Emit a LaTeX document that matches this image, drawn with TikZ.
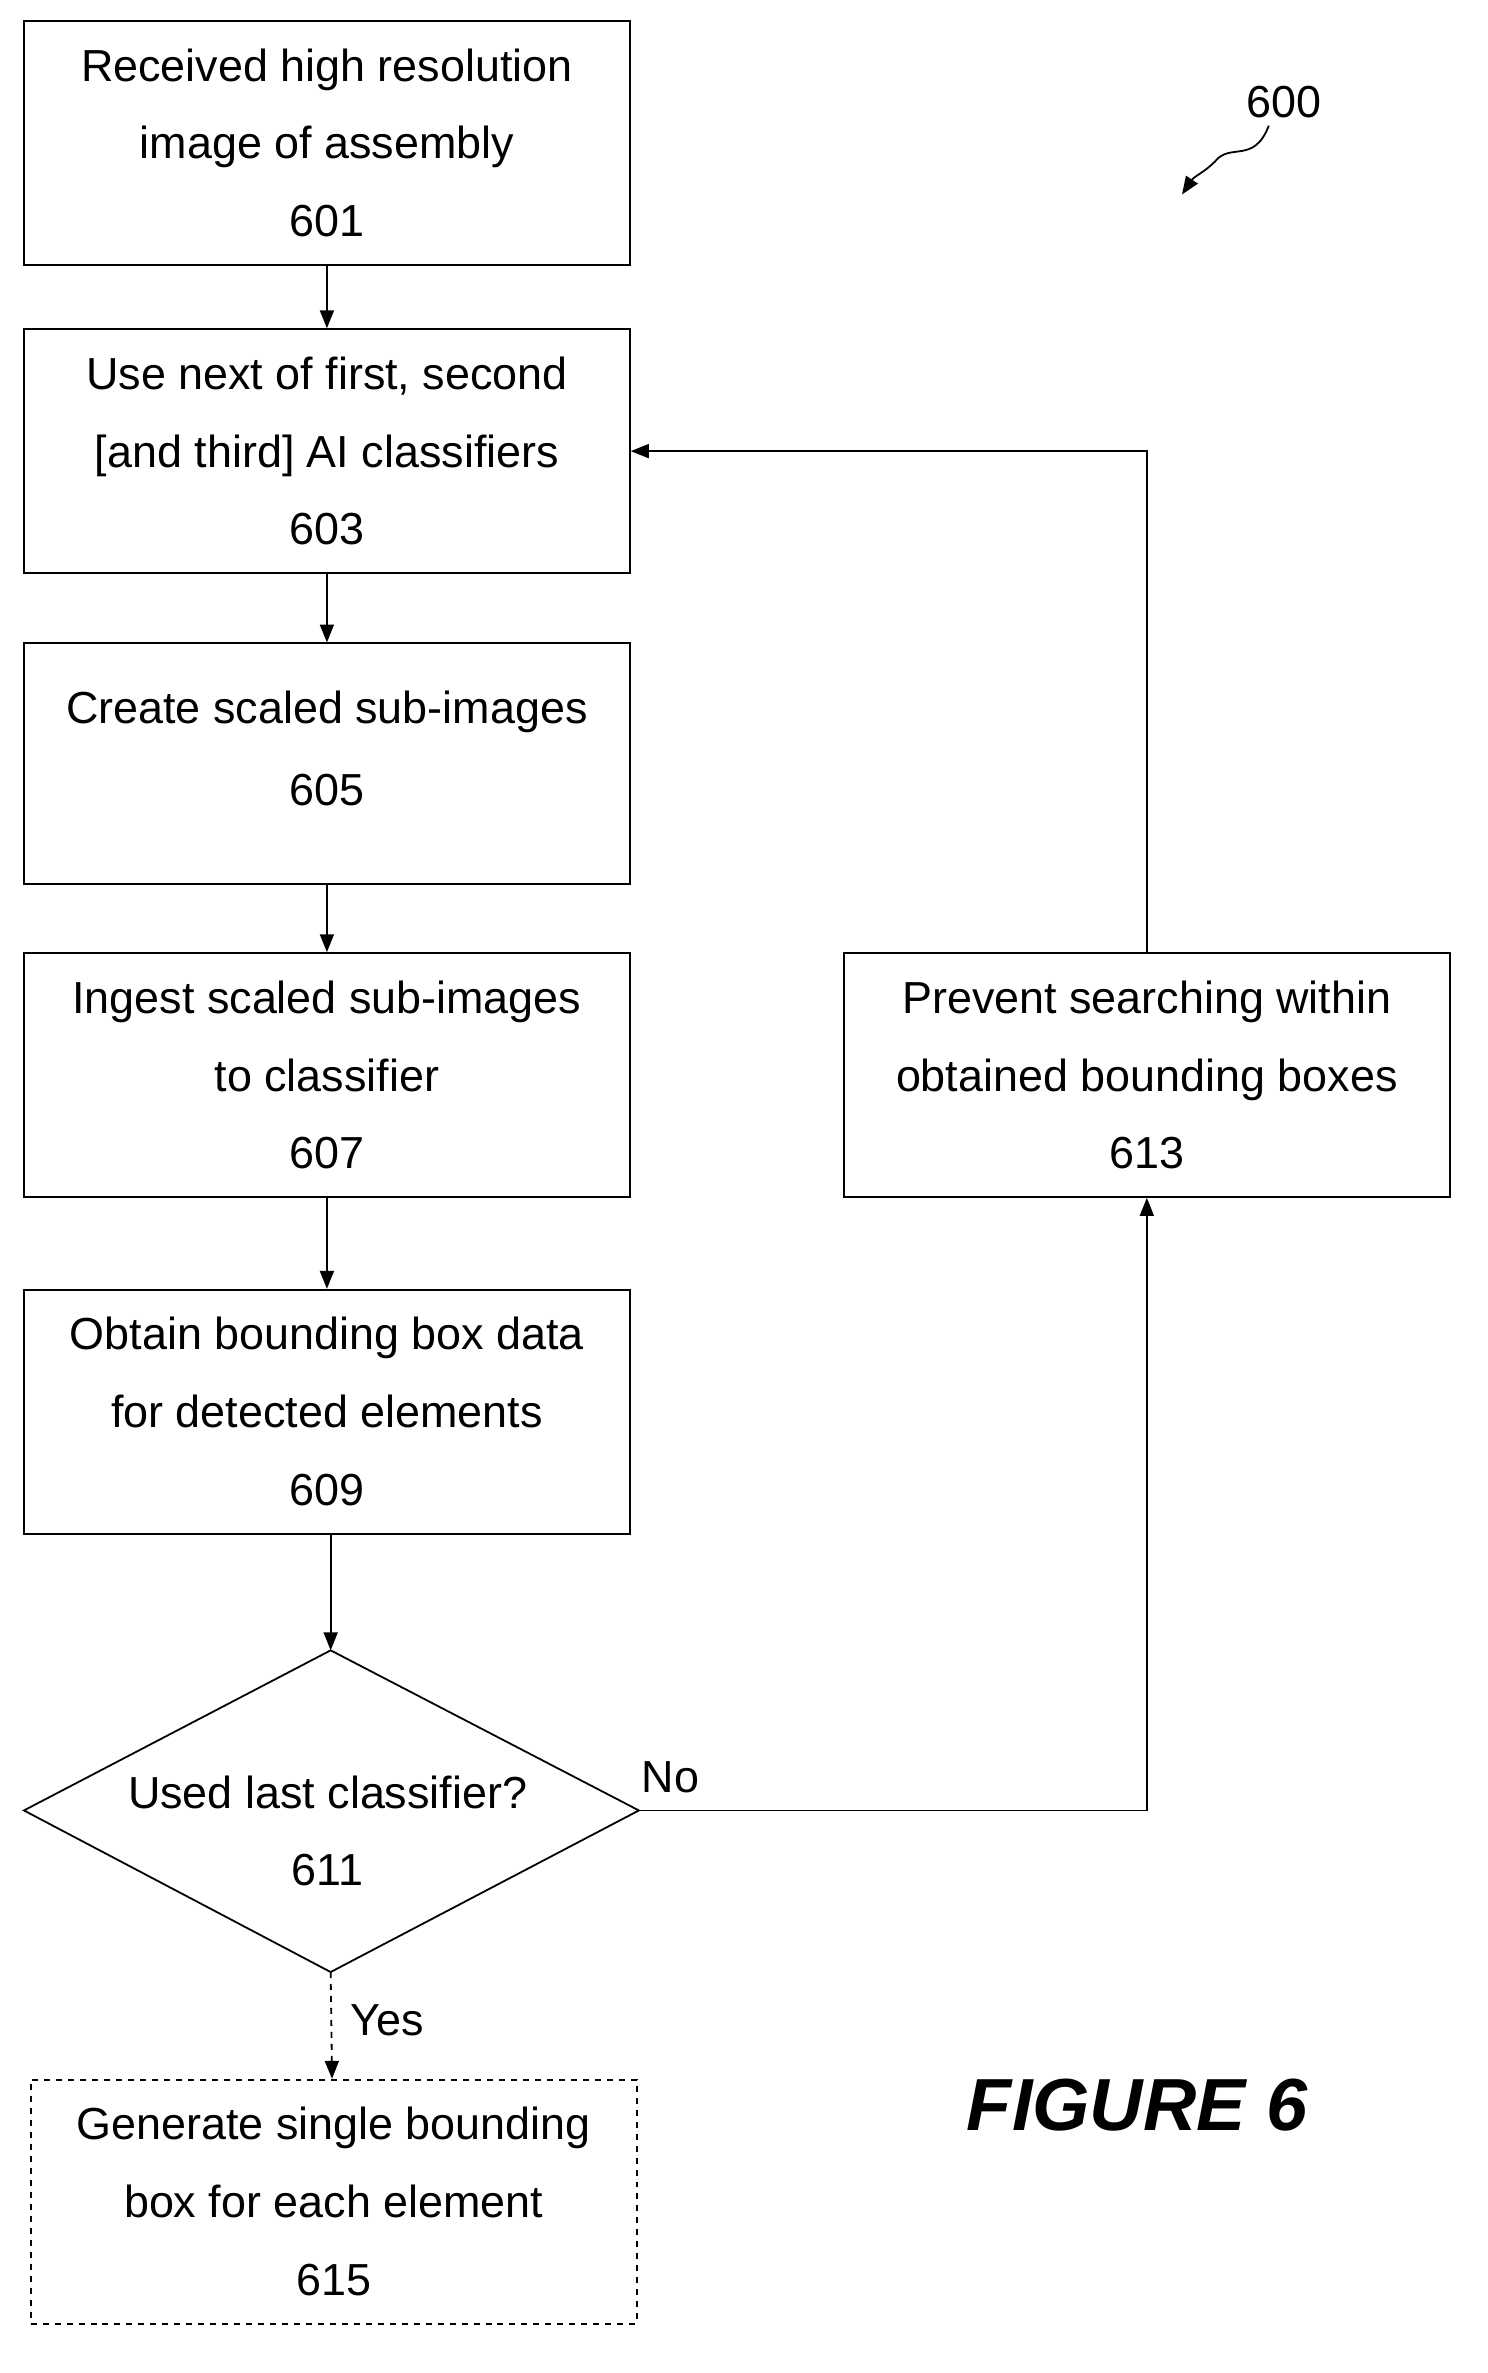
\documentclass[tikz,border=0pt]{standalone}
\usepackage{fontspec}
\setmainfont{Liberation Sans}
\usetikzlibrary{arrows.meta,shapes.geometric}
\begin{document}
\begin{tikzpicture}[x=0.75pt,y=-0.75pt,
  box/.style={draw,line width=0.9pt,minimum width=405*0.75pt,minimum height=163*0.75pt,align=center,font=\fontsize{22.5}{39}\selectfont,inner sep=0pt},
  arr/.style={-{Triangle[length=9pt,width=7pt]},line width=0.9pt},
  lab/.style={font=\fontsize{22.5}{26}\selectfont}]
\useasboundingbox (0,0) rectangle (994,1586);
\node[box] (n601) at (218.5,95.5) {Received high resolution\\image of assembly\\601};
\node[box] (n603) at (218.5,301.5) {Use next of first, second\\{[and third]} AI classifiers\\603};
\node[box,minimum height=161*0.75pt] (n605) at (218.5,510.5) {};
\node[lab] at (218.5,476) {Create scaled sub-images};
\node[lab] at (218.5,528) {605};
\node[box] (n607) at (218.5,718.5) {Ingest scaled sub-images\\to classifier\\607};
\node[box] (n609) at (218.5,943.5) {Obtain bounding box data\\for detected elements\\609};
\node[box] (n613) at (766.5,718.5) {Prevent searching within\\obtained bounding boxes\\613};
\node[box,dashed] (n615) at (223,1471.5) {Generate single bounding\\box for each element\\615};
\coordinate (dT) at (221,1103);
\coordinate (dB) at (221,1318);
\coordinate (dL) at (16,1210);
\coordinate (dR) at (427,1210);
\draw[line width=0.9pt] (dT) -- (dR) -- (dB) -- (dL) -- cycle;
\node[lab] (d611) at (219,1198) {Used last classifier?};
\node[lab] at (219,1250) {611};
\draw[arr] (n601) -- (n603);
\draw[arr] (n603) -- (n605);
\draw[arr] (n605) -- (n607);
\draw[arr] (n607) -- (n609);
\draw[arr] (221,1025) -- (dT);
\draw[arr,dashed] (dB) -- (n615);
\draw[arr] (dR) -| (n613.south);
\draw[arr] (n613.north) |- (n603.east);
\node[lab] at (448,1188) {No};
\node[lab] at (259,1350) {Yes};
\node[font=\fontsize{37}{44}\selectfont\bfseries\itshape] at (760,1407) {FIGURE 6};
\node[lab] at (858,68) {600};
\draw[arr] (848,84) .. controls (838,110) and (822,95) .. (812,108) .. controls (805,115) and (798,118) .. (790,130);
\end{tikzpicture}
\end{document}
